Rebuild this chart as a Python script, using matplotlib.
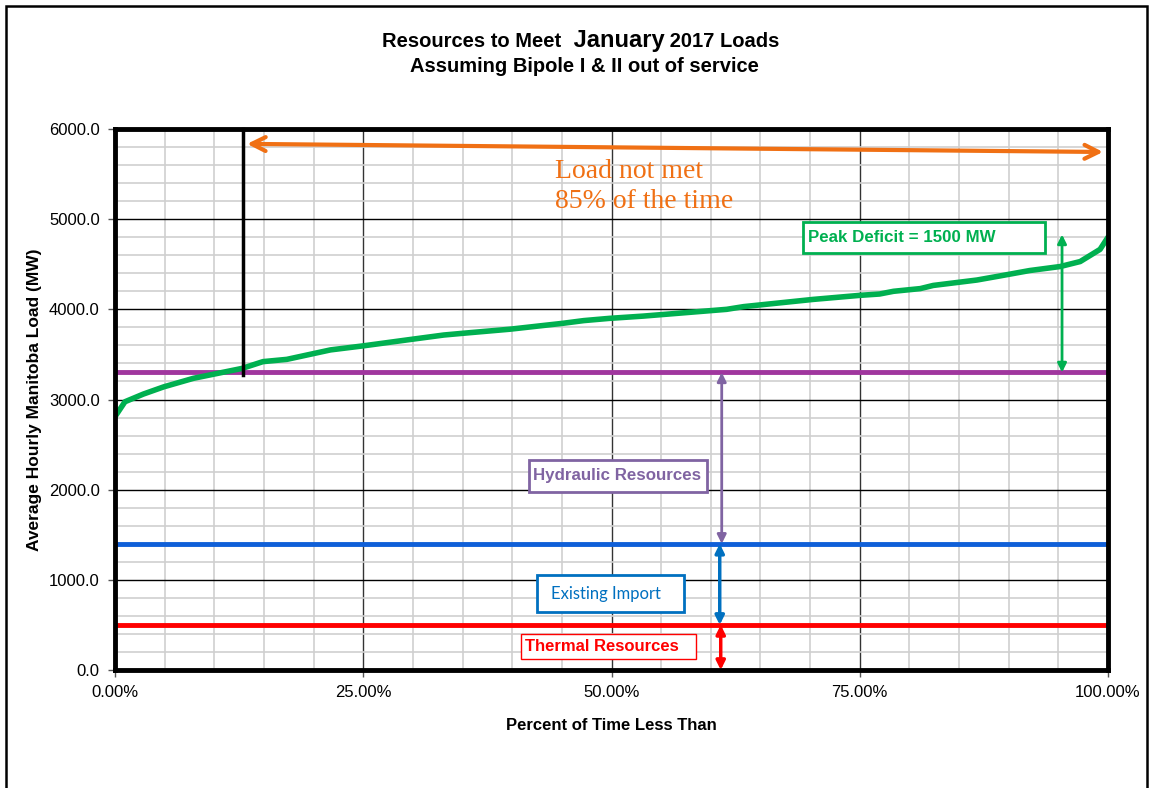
import matplotlib
matplotlib.use('Agg')
import matplotlib.pyplot as plt
from matplotlib.patches import Rectangle
from matplotlib.ticker import MultipleLocator, FuncFormatter

plt.rcParams['font.family'] = ['Liberation Sans', 'DejaVu Sans']

# load duration curve
pct_time = [0, 1.0, 2.85, 4.9, 7.9, 12.8, 14.9, 17.3, 21.7, 25.0, 29.7, 33.1,
            35.1, 39.8, 45.1, 47.2, 49.8, 53.2, 61.6, 63.3, 70.3, 75.0, 77.0,
            78.4, 81.1, 82.4, 86.8, 89.1, 92.1, 95.2, 97.2, 99.2, 100.0]
load_mw = [2810, 2975, 3060, 3140, 3235, 3345, 3420, 3445, 3550, 3595, 3665,
           3715, 3735, 3780, 3845, 3875, 3900, 3925, 4000, 4030, 4110, 4155,
           4170, 4200, 4230, 4265, 4325, 4370, 4430, 4475, 4530, 4665, 4800]

hydraulic_top = 3300
import_top = 1400
thermal_top = 500
unmet_start = 12.86  # percent of time where load exceeds resources
peak_deficit = 1500

x_ticks = [0, 0.25, 0.5, 0.75, 1.0]
y_ticks = [0, 1000, 2000, 3000, 4000, 5000, 6000]

GREEN = '#00B050'
PURPLE = '#A0369E'
BLUE = '#0F5FD8'
RED = '#FF0000'
ORANGE = '#F07014'

fig = plt.figure(figsize=(11.6, 7.88), dpi=100)
ax = fig.add_axes([115 / 1160, 118 / 788, 993 / 1160, 541 / 788])

x = [p / 100 for p in pct_time]
ax.plot(x, load_mw, color=GREEN, lw=4, solid_capstyle='round', zorder=5)
ax.axhline(hydraulic_top, color=PURPLE, lw=3.5, zorder=4)
ax.axhline(import_top, color=BLUE, lw=3.5, zorder=4)
ax.axhline(thermal_top, color=RED, lw=3.5, zorder=4)

# where load stops being met
xs = unmet_start / 100
ax.plot([xs, xs], [6000, 3270], color='black', lw=2.5, zorder=6, clip_on=False)
ax.annotate('', xy=(0.133, 5835), xytext=(0.995, 5745),
            arrowprops=dict(arrowstyle='<->', color=ORANGE, lw=3,
                            shrinkA=0, shrinkB=0, mutation_scale=25))
ax.text(0.443, 5665, 'Load not met\n85% of the time', color=ORANGE,
        family=['Liberation Serif', 'DejaVu Serif'], fontsize=20,
        va='top', ha='left', linespacing=1.25, zorder=6)

# vertical span arrows
def span_arrow(xp, y0, y1, color, lw=2):
    ax.annotate('', xy=(xp, y0), xytext=(xp, y1),
                arrowprops=dict(arrowstyle='<|-|>', color=color, lw=lw,
                                shrinkA=0, shrinkB=0, mutation_scale=13),
                zorder=6)

span_arrow(0.9537, hydraulic_top, hydraulic_top + peak_deficit + 30, GREEN)
span_arrow(0.611, import_top, hydraulic_top, '#8064A2')
span_arrow(0.609, thermal_top, import_top, '#0070C0', lw=2.5)
span_arrow(0.610, 0, thermal_top, RED, lw=2.5)

# labelled boxes
def label_box(x0, x1, y0, y1, tx, ty, s, color, lw=2, **kw):
    ax.add_patch(Rectangle((x0, y0), x1 - x0, y1 - y0, facecolor='white',
                           edgecolor=color, lw=lw, zorder=7))
    ax.text(tx, ty, s, color=color, ha='left', va='center', zorder=8, **kw)

label_box(0.693, 0.9366, 4625, 4968, 0.698, 4800,
          'Peak Deficit = 1500 MW', GREEN, fontsize=12.2, weight='bold')
label_box(0.417, 0.596, 1974, 2329, 0.421, 2155,
          'Hydraulic Resources', '#8064A2', fontsize=12.2, weight='bold')
label_box(0.425, 0.573, 643, 1054, 0.439, 848,
          'Existing Import', '#0070C0', fontsize=12,
          family=['Lato', 'DejaVu Sans'])
label_box(0.409, 0.585, 122, 399, 0.413, 262,
          'Thermal Resources', RED, lw=1, fontsize=12, weight='bold')

ax.set_xlim(0, 1)
ax.set_ylim(0, 6000)
ax.set_xticks(x_ticks)
ax.set_yticks(y_ticks)
ax.xaxis.set_minor_locator(MultipleLocator(0.05))
ax.yaxis.set_minor_locator(MultipleLocator(200))
ax.xaxis.set_major_formatter(FuncFormatter(lambda v, _: f'{v:.2%}'))
ax.yaxis.set_major_formatter(FuncFormatter(lambda v, _: f'{v:.1f}'))
ax.tick_params(which='major', labelsize=12, length=5, width=1, pad=6,
               color='#555555')
ax.tick_params(which='minor', length=0)

ax.set_axisbelow(True)
ax.grid(which='minor', color='#CFCFCF', lw=1.2)
ax.grid(which='major', axis='y', color='black', lw=1)
ax.grid(which='major', axis='x', color='#333333', lw=1)
for sp in ax.spines.values():
    sp.set_linewidth(3.5)
    sp.set_color('black')
    sp.set_zorder(9)

ax.set_xlabel('Percent of Time Less Than', fontsize=12, weight='bold',
              labelpad=13)
ax.set_ylabel('Average Hourly Manitoba Load (MW)', fontsize=12.5,
              weight='bold', labelpad=5)

# title with a larger month name
fig.canvas.draw()
rend = fig.canvas.get_renderer()
parts = [('Resources to Meet ', 14.5), (' January', 17), (' 2017 Loads', 14.5)]
ty = 1 - 47 / 788
pieces = [fig.text(0, ty, s, fontsize=fs, weight='bold', va='baseline')
          for s, fs in parts]
widths = [t.get_window_extent(rend).width for t in pieces]
xpos = 581 - sum(widths) / 2
for t, w in zip(pieces, widths):
    t.set_x(xpos / 1160)
    xpos += w
fig.text(584 / 1160, 1 - 72 / 788, 'Assuming Bipole I & II out of service',
         fontsize=14.5, weight='bold', ha='center', va='baseline')

# outer chart border
fig.patches.append(Rectangle((6 / 1160, -0.05), 1141 / 1160, 1.05 - 6 / 788,
                             transform=fig.transFigure, fill=False,
                             edgecolor='black', lw=1.8))

fig.savefig('out.png', dpi=100)
